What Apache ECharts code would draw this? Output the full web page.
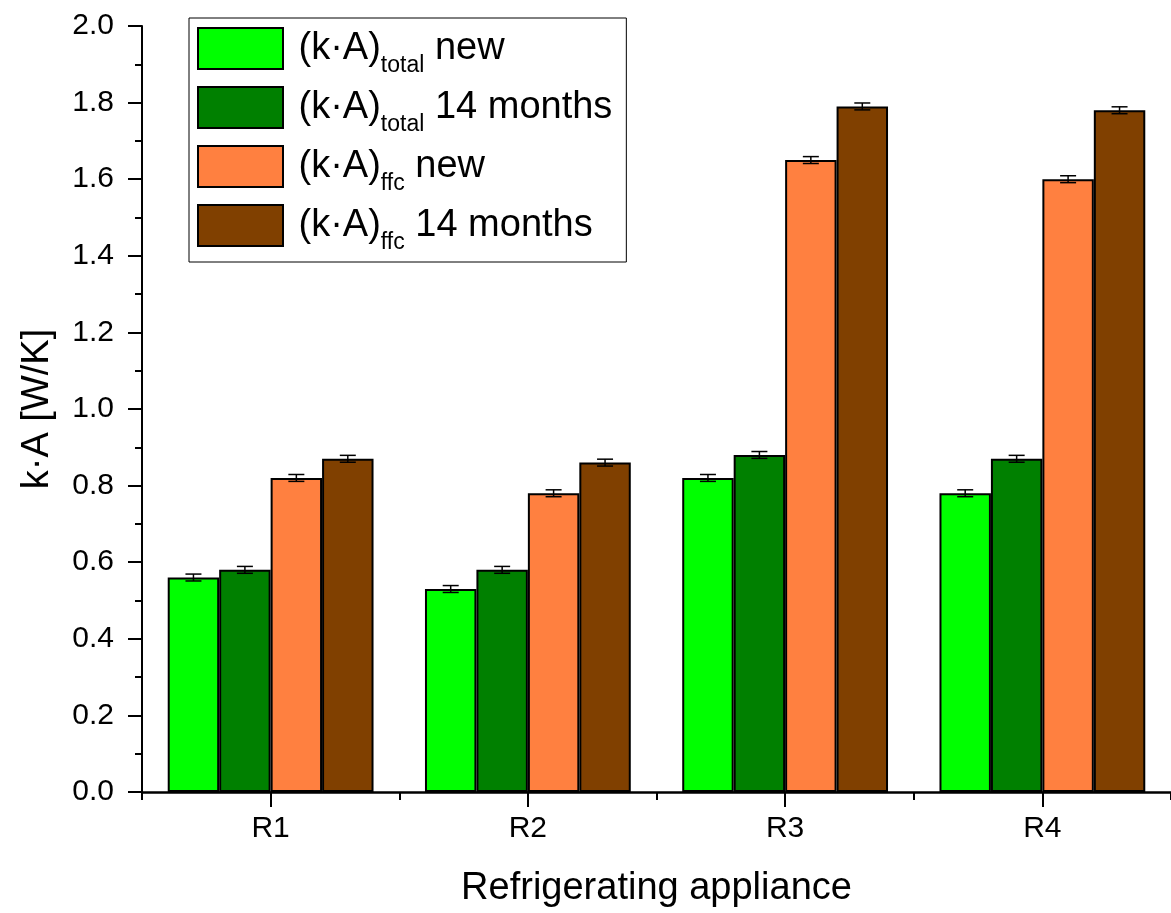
<!DOCTYPE html>
<html>
<head>
<meta charset="utf-8">
<script src="https://cdn.jsdelivr.net/npm/echarts@6/dist/echarts.min.js"></script>
<style>html,body{margin:0;padding:0;background:#fff;}#c{width:1171px;height:913px;}</style>
</head>
<body>
<div id="c"></div>
<script>
var categories = ['R1', 'R2', 'R3', 'R4'];
var seriesNames = ['total new', 'total 14 months', 'ffc new', 'ffc 14 months'];
var totalNew = [0.56, 0.53, 0.82, 0.78];
var total14 = [0.58, 0.58, 0.88, 0.87];
var ffcNew = [0.82, 0.78, 1.65, 1.60];
var ffc14 = [0.87, 0.86, 1.79, 1.78];
var errTotalNew = [0.009, 0.009, 0.009, 0.009];
var errTotal14 = [0.009, 0.009, 0.009, 0.009];
var errFfcNew = [0.009, 0.009, 0.009, 0.009];
var errFfc14 = [0.009, 0.009, 0.009, 0.009];
var yTicks = ['0.0','0.2','0.4','0.6','0.8','1.0','1.2','1.4','1.6','1.8','2.0'];

var values = [totalNew, total14, ffcNew, ffc14];
var errs = [errTotalNew, errTotal14, errFfcNew, errFfc14];
var colors = ['#00FF00', '#008000', '#FF8040', '#804000'];
var legendText = {
  'total new': '{m| (k·A)}{s|total}{m| new}',
  'total 14 months': '{m| (k·A)}{s|total}{m| 14 months}',
  'ffc new': '{m| (k·A)}{s|ffc}{m| new}',
  'ffc 14 months': '{m| (k·A)}{s|ffc}{m| 14 months}'
};
var FONT = 'Liberation Sans, Arial, sans-serif';

var series = [];
values.forEach(function (vals, i) {
  series.push({
    name: seriesNames[i],
    type: 'bar',
    xAxisIndex: 0,
    data: vals,
    barGap: '0%',
    barCategoryGap: '20%',
    itemStyle: { color: colors[i], borderColor: '#000', borderWidth: 2 },
    z: 2
  });
});
values.forEach(function (vals, i) {
  series.push({
    type: 'custom',
    xAxisIndex: 0,
    z: 5,
    silent: true,
    data: vals.map(function (v, k) { return [k, v - errs[i][k], v + errs[i][k]]; }),
    encode: { x: 0, y: [1, 2] },
    renderItem: function (params, api) {
      var k = api.value(0);
      var band = api.size([1, 0])[0];
      var bw = band * 0.8 / 4;
      var top = api.coord([k, api.value(2)]);
      var bot = api.coord([k, api.value(1)]);
      var cx = top[0] + (i - 1.5) * bw;
      var hw = 8;
      var st = { stroke: '#000', lineWidth: 1.5 };
      return {
        type: 'group',
        children: [
          { type: 'line', shape: { x1: cx, y1: top[1], x2: cx, y2: bot[1] }, style: st },
          { type: 'line', shape: { x1: cx - hw, y1: top[1], x2: cx + hw, y2: top[1] }, style: st },
          { type: 'line', shape: { x1: cx - hw, y1: bot[1], x2: cx + hw, y2: bot[1] }, style: st }
        ]
      };
    }
  });
});

var chart = echarts.init(document.getElementById('c'), null, { renderer: 'canvas' });
chart.setOption({
  animation: false,
  backgroundColor: '#fff',
  textStyle: { fontFamily: FONT },
  grid: { left: 142, top: 26, width: 1033, height: 769, containLabel: false },
  legend: {
    orient: 'vertical',
    left: 189,
    top: 18,
    data: seriesNames,
    itemWidth: 85,
    itemHeight: 41,
    itemGap: 2,
    padding: [2, 14, 8, 8],
    borderColor: '#000',
    borderWidth: 1,
    backgroundColor: '#fff',
    icon: 'rect',
    selectedMode: false,
    formatter: function (name) { return legendText[name]; },
    textStyle: {
      color: '#000',
      fontFamily: FONT,
      rich: {
        m: { fontSize: 38, fontFamily: FONT, color: '#000', lineHeight: 44 },
        s: { fontSize: 23, fontFamily: FONT, color: '#000', lineHeight: 23, padding: [34, 0, 0, 0] }
      }
    }
  },
  xAxis: [{
    type: 'category',
    data: categories,
    name: 'Refrigerating appliance',
    nameLocation: 'middle',
    nameGap: 78,
    nameTextStyle: { fontSize: 38, color: '#000', fontFamily: FONT },
    axisLine: { show: true, lineStyle: { color: '#000', width: 2.5 } },
    axisTick: { show: true, alignWithLabel: false, length: 8, lineStyle: { color: '#000', width: 2 } },
    axisLabel: { show: true, fontSize: 30, color: '#000', margin: 22, fontFamily: FONT },
    splitLine: { show: false }
  }, {
    type: 'category',
    data: categories,
    position: 'bottom',
    axisLine: { show: false },
    axisTick: { show: true, alignWithLabel: true, length: 15, lineStyle: { color: '#000', width: 2 } },
    axisLabel: { show: false },
    splitLine: { show: false }
  }],
  yAxis: {
    type: 'value',
    min: 0,
    max: 2,
    interval: 0.2,
    name: 'k·A [W/K]',
    nameLocation: 'middle',
    nameGap: 85,
    nameTextStyle: { fontSize: 38, color: '#000', fontFamily: FONT },
    axisLine: { show: true, lineStyle: { color: '#000', width: 2 } },
    axisTick: { show: true, inside: false, length: 14, lineStyle: { color: '#000', width: 2 } },
    minorTick: { show: true, splitNumber: 2, length: 7, lineStyle: { color: '#000', width: 2 } },
    axisLabel: {
      fontSize: 30, color: '#000', margin: 28, fontFamily: FONT,
      formatter: function (v) { var idx = Math.round(v / 0.2); return yTicks[idx] !== undefined ? yTicks[idx] : v.toFixed(1); }
    },
    splitLine: { show: false }
  },
  series: series
});
</script>
</body>
</html>
